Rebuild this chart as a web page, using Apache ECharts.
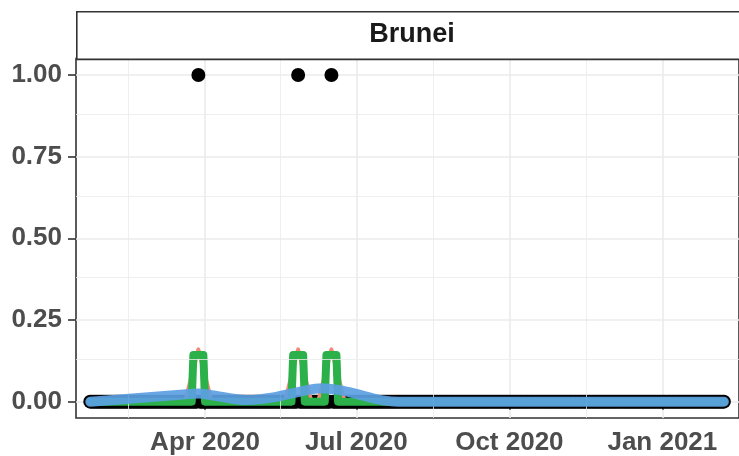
<!DOCTYPE html>
<html><head><meta charset="utf-8">
<script src="https://cdn.jsdelivr.net/npm/echarts@6/dist/echarts.min.js"></script>
<style>html,body{margin:0;padding:0;background:#fff}#c{width:739px;height:456px}</style>
</head><body><div id="c"></div>
<script>
// ---- data ----
const panelTitle = 'Brunei';
const firstDay = '2020-01-23';
const lastDay = '2021-02-07';
const caseDays = ['2020-03-28', '2020-05-27', '2020-06-16'];   // days with value 1

// 7-day average (green)
const avgDates  = ['2020-01-23','2020-03-24','2020-03-25','2020-03-31','2020-04-01','2020-05-23','2020-05-24','2020-05-30','2020-05-31','2020-06-12','2020-06-13','2020-06-19','2020-06-20','2021-02-07'];
const avgValues = [0, 0, 0.143, 0.143, 0, 0, 0.143, 0.143, 0, 0, 0.143, 0.143, 0, 0];

// secondary average (salmon)
const altDates  = ['2020-01-23','2020-03-20','2020-03-28','2020-04-05','2020-05-19','2020-05-27','2020-06-04','2020-06-08','2020-06-16','2020-06-24','2021-02-07'];
const altValues = [0, 0, 0.16, 0, 0, 0.16, 0, 0, 0.16, 0, 0];

// smooth trend (blue)
const trendDates  = ['2020-01-23','2020-02-23','2020-03-21','2020-03-28','2020-04-06','2020-04-26','2020-05-12','2020-05-31','2020-06-10','2020-06-20','2020-07-01','2020-07-09','2020-07-17','2020-07-26','2020-10-01','2021-02-07'];
const trendValues = [0, 0.012, 0.023, 0.025, 0.019, 0.005, 0.013, 0.034, 0.041, 0.036, 0.024, 0.013, 0.004, 0, 0, 0];

// axes
const xStart = ['2020-01-14', 10];   // date, hour
const xEnd   = ['2021-02-16', 2];
const xTicks = ['2020-04-01', '2020-07-01', '2020-10-01', '2021-01-01'];
const xMinor = ['2020-02-15', '2020-05-16', '2020-08-16', '2020-11-16'];
const yTicks = [0, 0.25, 0.5, 0.75, 1];
const yMinor = [0.125, 0.375, 0.625, 0.875];
const monthNames = ['Jan','Feb','Mar','Apr','May','Jun','Jul','Aug','Sep','Oct','Nov','Dec'];

// ---- build tables ----
function pad(n){ return (n < 10 ? '0' : '') + n; }
function ts(s, h){ const p = s.split('-').map(Number); return new Date(p[0], p[1]-1, p[2], h || 0).getTime(); }
const caseSet = new Set(caseDays);
const daily = [];
{
  const a = firstDay.split('-').map(Number);
  const endT = ts(lastDay);
  for (let d = new Date(a[0], a[1]-1, a[2]); d.getTime() <= endT; d.setDate(d.getDate()+1)) {
    const s = d.getFullYear() + '-' + pad(d.getMonth()+1) + '-' + pad(d.getDate());
    daily.push([d.getTime(), caseSet.has(s) ? 1 : 0]);
  }
}
const zip = (ds, vs) => ds.map((d, i) => [ts(d), vs[i]]);

const FONT = 'Liberation Sans';
const chart = echarts.init(document.getElementById('c'), null, {renderer: 'canvas'});
chart.setOption({
  animation: false,
  backgroundColor: '#ffffff',
  grid: {left: 76, right: -5, top: 58.6, bottom: 36.9, show: true, borderColor: '#333333', borderWidth: 1.6, backgroundColor: 'transparent'},
  xAxis: {
    type: 'value', min: ts(xStart[0], xStart[1]), max: ts(xEnd[0], xEnd[1]),
    axisLine: {show: false},
    axisTick: {show: true, length: 8, lineStyle: {color: '#333333', width: 1.6}, customValues: xTicks.map(d => ts(d))},
    axisLabel: {customValues: xTicks.map(d => ts(d)), margin: 12, color: '#4d4d4d', fontSize: 26, fontWeight: 'bold', fontFamily: FONT,
      formatter: v => { const d = new Date(v); return monthNames[d.getMonth()] + ' ' + d.getFullYear(); }},
    splitLine: {show: true, lineStyle: {color: '#ebebeb', width: 1.6}}
  },
  yAxis: {
    type: 'value', min: -0.05, max: 1.05,
    axisLine: {show: false},
    axisTick: {show: true, length: 8, lineStyle: {color: '#333333', width: 1.6}, customValues: yTicks},
    axisLabel: {customValues: yTicks, margin: 14, color: '#4d4d4d', fontSize: 26, fontWeight: 'bold', fontFamily: FONT,
      formatter: v => v.toFixed(2)},
    splitLine: {show: true, lineStyle: {color: '#ebebeb', width: 1.6}}
  },
  graphic: [
    {type: 'rect', left: 76, top: 11, shape: {width: 700, height: 47.6}, style: {fill: '#ffffff', stroke: '#333333', lineWidth: 1.6}, z: 10},
    {type: 'text', x: 412, y: 35, style: {text: panelTitle, fill: '#1a1a1a', font: 'bold 27px "Liberation Sans"', align: 'center', verticalAlign: 'middle'}, z: 11}
  ],
  series: [
    {type: 'line', data: [], z: 1, silent: true,
      markLine: {silent: true, symbol: 'none', label: {show: false}, animation: false,
        lineStyle: {color: '#ebebeb', width: 0.8, type: 'solid'},
        data: xMinor.map(d => ({xAxis: ts(d)})).concat(yMinor.map(v => ({yAxis: v})))}},
    {type: 'scatter', data: daily, symbol: 'circle', symbolSize: 14, itemStyle: {color: '#000000', opacity: 1}, z: 2, silent: true},
    {type: 'line', data: zip(altDates, altValues), showSymbol: false, z: 3, silent: true,
      lineStyle: {color: '#f4897a', width: 4, cap: 'round', join: 'round'}},
    {type: 'line', data: zip(avgDates, avgValues), showSymbol: false, z: 4, silent: true,
      lineStyle: {color: '#2bb04a', width: 8, cap: 'round', join: 'round'}},
    {type: 'line', data: zip(trendDates, trendValues), showSymbol: false, smooth: 0.3, z: 5, silent: true,
      lineStyle: {color: 'rgb(92,160,226)', opacity: 0.92, width: 10, cap: 'round', join: 'round'}}
  ]
});
</script>
</body></html>
